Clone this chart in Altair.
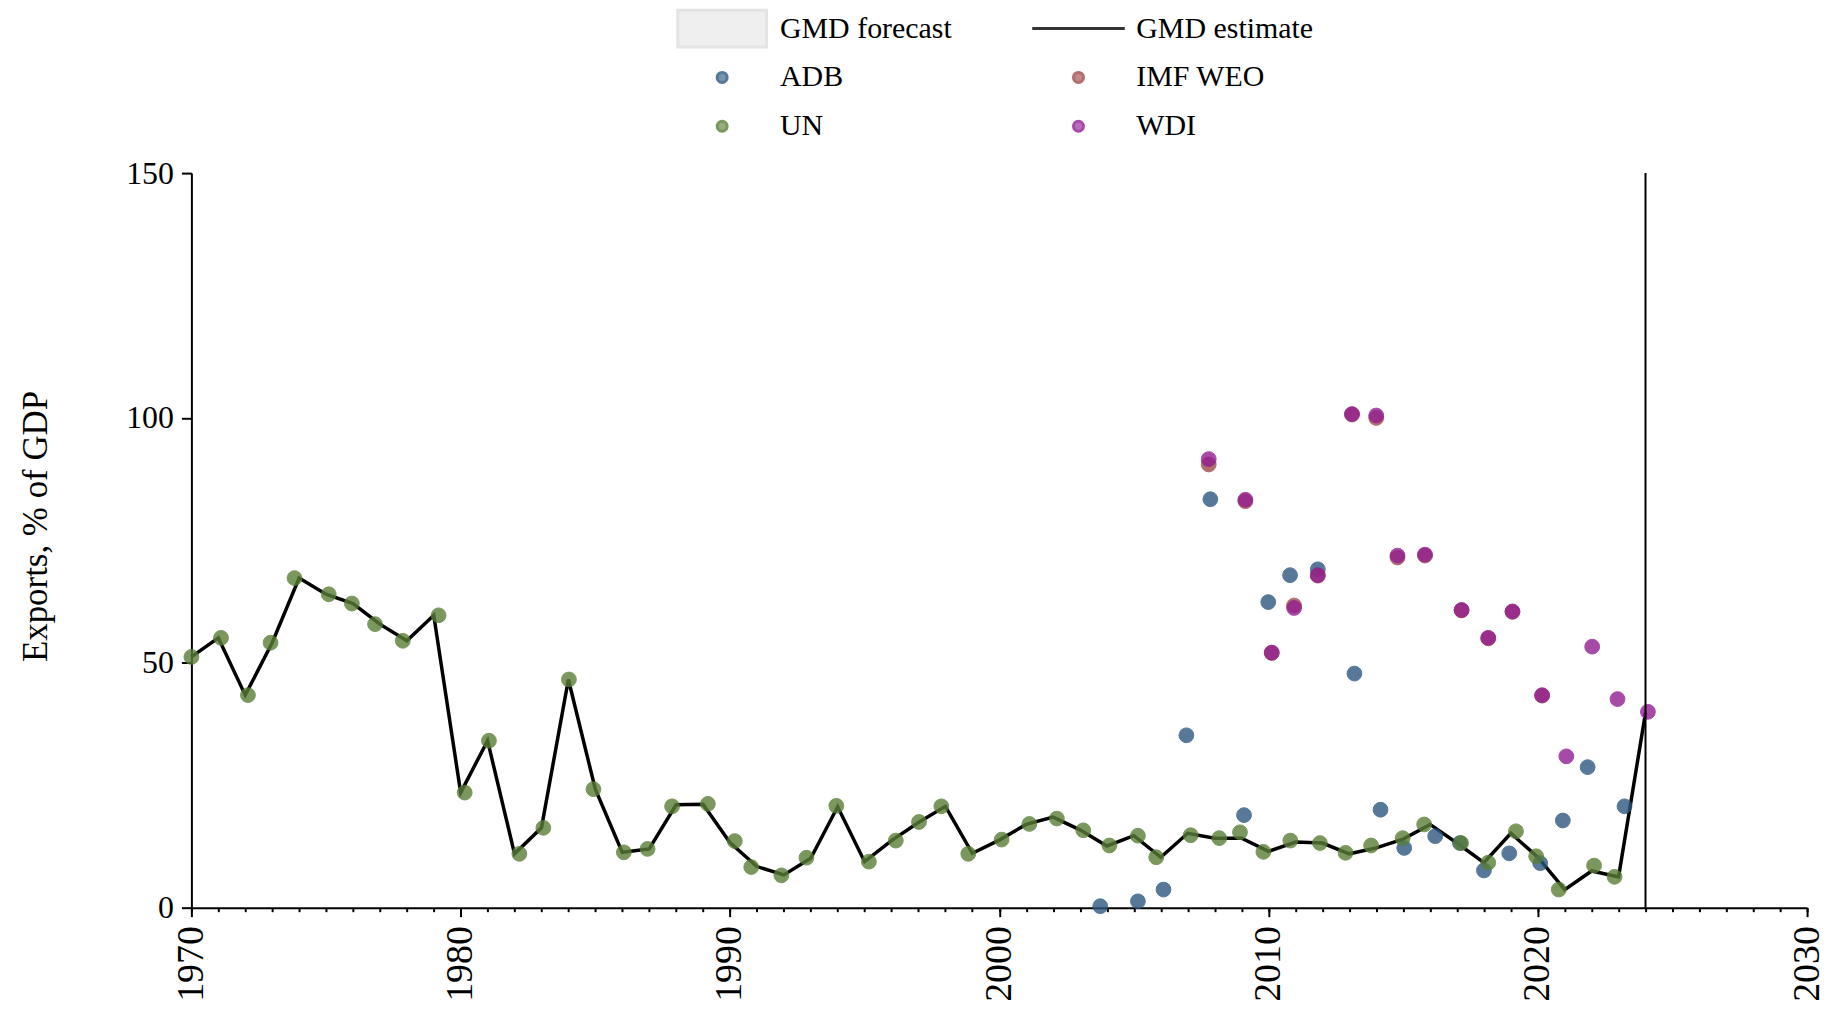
import altair as alt
import pandas as pd

# ---------------- data ----------------
years = list(range(1970, 2025))
gmd_estimate = [
    51.2, 55.1, 43.4, 54.1, 67.3, 64.0, 62.1, 57.9, 54.5, 59.7,
    23.5, 34.1, 11.0, 16.3, 46.6, 24.2, 11.3, 12.0, 21.0, 21.1,
    13.3, 8.4, 6.7, 10.1, 20.6, 9.4, 13.7, 17.4, 20.7, 11.1,
    13.8, 17.0, 18.5, 15.9, 12.6, 14.7, 10.3, 15.2, 14.2, 14.2,
    11.5, 13.4, 13.2, 11.0, 12.2, 14.0, 17.0, 13.2, 9.2, 15.2,
    10.3, 3.7, 7.5, 6.3, 39.8,
]

un_x = [
    1970.00, 1971.10, 1972.10, 1972.94, 1973.83, 1975.10, 1975.96, 1976.82, 1977.85, 1979.18,
    1980.15, 1981.05, 1982.18, 1983.07, 1984.02, 1984.93, 1986.06, 1986.94, 1987.85, 1989.18,
    1990.18, 1990.79, 1991.91, 1992.84, 1993.95, 1995.16, 1996.16, 1997.02, 1997.85, 1998.85,
    2000.09, 2001.12, 2002.14, 2003.12, 2004.09, 2005.15, 2005.83, 2007.11, 2008.17, 2008.94,
    2009.81, 2010.81, 2011.91, 2012.86, 2013.81, 2014.98, 2015.78, 2017.15, 2018.16, 2019.19,
    2019.94, 2020.78, 2022.09, 2022.85,
]
un_values = [
    51.2, 55.1, 43.4, 54.1, 67.3, 64.0, 62.1, 57.9, 54.5, 59.7,
    23.5, 34.1, 11.0, 16.3, 46.6, 24.2, 11.3, 12.0, 20.7, 21.2,
    13.6, 8.3, 6.6, 10.2, 20.8, 9.4, 13.7, 17.5, 20.7, 11.0,
    13.9, 17.1, 18.2, 15.8, 12.7, 14.7, 10.3, 14.8, 14.2, 15.4,
    11.4, 13.7, 13.2, 11.2, 12.7, 14.2, 17.0, 13.2, 9.2, 15.6,
    10.5, 3.7, 8.6, 6.3,
]

adb_x = [
    2003.75, 2005.15, 2006.10, 2006.95, 2007.84, 2009.09, 2009.99, 2010.80, 2011.83, 2013.19,
    2014.16, 2015.04, 2016.19, 2017.11, 2018.00, 2018.94, 2020.09, 2020.93, 2021.85, 2023.22,
]
adb_values = [
    0.3, 1.3, 3.7, 35.2, 83.4, 18.9, 62.4, 67.9, 69.1, 47.8,
    20.0, 12.2, 14.6, 13.2, 7.6, 11.1, 9.1, 17.8, 28.7, 20.7,
]

imf_x = [
    2007.78, 2009.14, 2010.12, 2010.95, 2011.83, 2013.10, 2014.00, 2014.79, 2015.81, 2017.17,
    2018.16, 2019.06, 2020.16,
]
imf_values = [
    90.5, 83.0, 52.0, 61.7, 67.8, 100.7, 100.0, 71.5, 71.9, 60.7,
    55.0, 60.4, 43.3,
]

wdi_x = [
    2007.78, 2009.14, 2010.12, 2010.95, 2011.83, 2013.10, 2014.00, 2014.79, 2015.81, 2017.17,
    2018.16, 2019.06, 2020.16, 2021.06, 2022.02, 2022.96, 2024.09,
]
wdi_values = [
    91.6, 83.3, 52.1, 61.2, 67.9, 100.8, 100.5, 71.9, 72.1, 60.8,
    55.1, 60.5, 43.4, 30.9, 53.3, 42.6, 40.0,
]

cutoff_year = [2024]
x_major_ticks = [1970, 1980, 1990, 2000, 2010, 2020, 2030]
x_minor_ticks = list(range(1970, 2031))
y_ticks = [0, 50, 100, 150]

legend_order = ["GMD forecast", "GMD estimate", "ADB", "IMF WEO", "UN", "WDI"]
fill_colors = ["#e6e6e6", "#000000", "#2e577f", "#9f4a4a", "#597e37", "#921e92"]
stroke_colors = ["#dedede", "#000000", "#2e577f", "#9f4a4a", "#597e37", "#921e92"]
shapes = ["M-8.9,-3.7L8.9,-3.7L8.9,3.7L-8.9,3.7Z", "M-9.3,0L9.3,0",
          "circle", "circle", "circle", "circle"]

# ---------------- tables ----------------
line_df = pd.DataFrame({"year": years, "value": gmd_estimate})
parts = []
for name, xs, vs in [("ADB", adb_x, adb_values), ("IMF WEO", imf_x, imf_values),
                     ("UN", un_x, un_values), ("WDI", wdi_x, wdi_values)]:
    parts.append(pd.DataFrame({"series": name, "year": xs, "value": vs}))
points_df = pd.concat(parts, ignore_index=True)
cut_df = pd.DataFrame({"year": cutoff_year})

FONT = "Liberation Serif"
x_scale = alt.Scale(domain=[1970, 2030], nice=False, zero=False)
y_scale = alt.Scale(domain=[0, 150], nice=False)

legend = alt.Legend(
    title=None, orient="none", legendX=486, legendY=-169.5, columns=2,
    direction="horizontal", clipHeight=49, rowPadding=0, columnPadding=80.5,
    symbolOffset=31.5, labelOffset=43, symbolSize=100, symbolStrokeWidth=3,
    labelFont=FONT, labelFontSize=30, labelColor="black", padding=0, labelLimit=500,
)

main_x_axis = alt.Axis(
    values=x_major_ticks, format="d", labelAngle=270, labelFont=FONT, labelFontSize=38,
    labelColor="black", labelPadding=9, tickSize=9, tickWidth=2, tickColor="black",
    domainColor="black", domainWidth=2, grid=False, title=None, orient="bottom",
)
minor_x_axis = alt.Axis(
    values=x_minor_ticks, labels=False, domain=False, tickSize=4, tickWidth=2,
    tickColor="black", grid=False, title=None, orient="bottom",
)
y_axis = alt.Axis(
    values=y_ticks, labelFont=FONT, labelFontSize=32, labelColor="black", labelPadding=8,
    tickSize=10, tickWidth=2, tickColor="black", domainColor="black", domainWidth=2,
    grid=False, title="Exports, % of GDP", titleFont=FONT, titleFontSize=35,
    titleFontWeight="normal", titleColor="black", titlePadding=72, titleY=354,
    orient="left",
)

line = alt.Chart(line_df).mark_line(color="black", strokeWidth=3.5).encode(
    x=alt.X("year:Q", scale=x_scale, axis=main_x_axis),
    y=alt.Y("value:Q", scale=y_scale, axis=y_axis),
)

points = alt.Chart(points_df).mark_point(filled=True, size=220, opacity=0.8, strokeWidth=1).encode(
    x=alt.X("year:Q", scale=x_scale, axis=None),
    y=alt.Y("value:Q", scale=y_scale, axis=None),
    fill=alt.Fill("series:N", scale=alt.Scale(domain=legend_order, range=fill_colors), legend=legend),
    stroke=alt.Stroke("series:N", scale=alt.Scale(domain=legend_order, range=stroke_colors), legend=legend),
    shape=alt.Shape("series:N", scale=alt.Scale(domain=legend_order, range=shapes), legend=legend),
)

rule = alt.Chart(cut_df).mark_rule(color="black", strokeWidth=2).encode(
    x=alt.X("year:Q", scale=x_scale, axis=minor_x_axis),
)

chart = (
    alt.layer(line, points, rule)
    .resolve_axis(x="independent", y="independent")
    .properties(
        width=1621, height=737,
        autosize=alt.AutoSizeParams(type="none"),
        padding={"left": 184, "top": 164, "right": 22, "bottom": 100},
    )
    .configure_view(strokeWidth=0, stroke=None, strokeOpacity=0)
    .configure(background="white", font=FONT,
               style={"cell": {"stroke": "transparent", "strokeWidth": 0, "strokeOpacity": 0}})
)

chart.save("out.html", embed_options={"renderer": "svg", "actions": False})
